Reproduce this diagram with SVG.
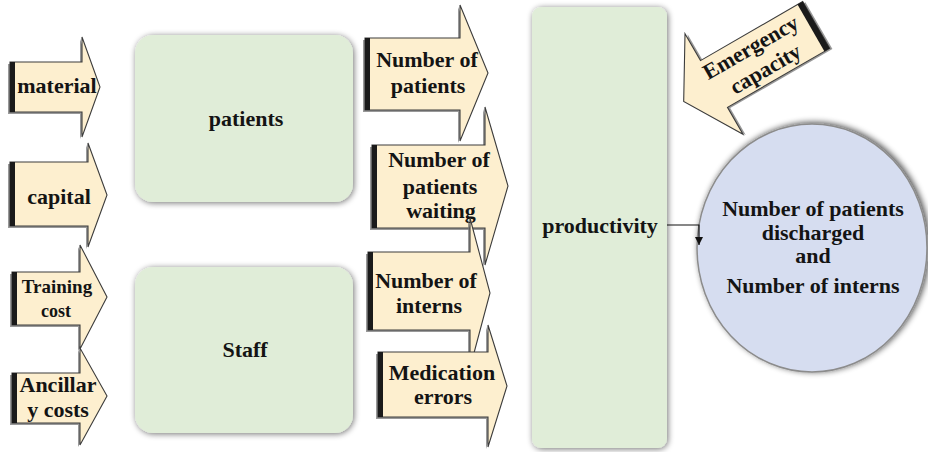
<svg xmlns="http://www.w3.org/2000/svg" width="928" height="452" viewBox="0 0 928 452">
<style>
text{font-weight:bold;font-size:22px;fill:#141414;text-anchor:middle}
.arr{fill:#fdefcf;stroke:#3c3c3c;stroke-width:1.1;stroke-linejoin:miter}
.arrsh{fill:#777;opacity:.75}
.bar{fill:#1a1a1a}
.box{fill:#e0edd8}
.conn{fill:none;stroke:#111;stroke-width:1.2}
</style>
<defs>
<filter id="soft" x="-10%" y="-10%" width="120%" height="120%">
<feGaussianBlur in="SourceAlpha" stdDeviation="3"/>
<feOffset dx="1" dy="1" result="b"/>
<feComponentTransfer><feFuncA type="linear" slope="0.55"/></feComponentTransfer>
<feMerge><feMergeNode/><feMergeNode in="SourceGraphic"/></feMerge>
</filter>
<filter id="circsh" x="-15%" y="-15%" width="130%" height="130%">
<feGaussianBlur in="SourceAlpha" stdDeviation="3"/>
<feOffset dx="2" dy="-1"/>
<feComponentTransfer><feFuncA type="linear" slope="0.7"/></feComponentTransfer>
<feMerge><feMergeNode/><feMergeNode in="SourceGraphic"/></feMerge>
</filter>
<marker id="ah" markerWidth="8" markerHeight="8" refX="8" refY="4" orient="auto" markerUnits="userSpaceOnUse" viewBox="0 0 8 8">
<path d="M0,0 L8,4 L0,8 Z" fill="#111"/>
</marker>
</defs>
<rect width="928" height="452" fill="#ffffff"/>
<g font-family="Liberation Serif, Times New Roman, DejaVu Serif, serif">

<!-- left input arrows -->
<g id="material">
<polygon class="arrsh" points="8,64 80,64 80,39 98,89 80,139 80,114 8,114"/>
<polygon class="arr" points="10,62 82,62 82,37 100,87 82,137 82,112 10,112"/>
<rect class="bar" x="10" y="62" width="5" height="50"/>
<text x="57" y="93">material</text>
</g>
<g id="capital">
<polygon class="arrsh" points="8,164 86,164 86,145 105,197 86,249 86,228 8,228"/>
<polygon class="arr" points="10,162 88,162 88,143 107,195 88,247 88,226 10,226"/>
<rect class="bar" x="10" y="162" width="5" height="64"/>
<text x="59" y="204">capital</text>
</g>
<g id="training">
<polygon class="arrsh" points="10,274 78,274 78,247 105,299 78,351 78,327 10,327"/>
<polygon class="arr" points="12,272 80,272 80,245 107,297 80,349 80,325 12,325"/>
<rect class="bar" x="12" y="272" width="5" height="53"/>
<text x="57" y="293" style="font-size:19px">Training</text>
<text x="56" y="317" style="font-size:18px">cost</text>
</g>
<g id="ancillary">
<polygon class="arrsh" points="10,375 78,375 78,350 105,398 78,447 78,425 10,425"/>
<polygon class="arr" points="12,373 80,373 80,348 107,396 80,445 80,423 12,423"/>
<rect class="bar" x="12" y="373" width="5" height="50"/>
<text x="58" y="392">Ancillar</text>
<text x="58" y="417">y costs</text>
</g>

<!-- green boxes -->
<g id="patients">
<rect class="box" x="135" y="35" width="218" height="167" rx="18" filter="url(#soft)"/>
<text x="246" y="126">patients</text>
</g>
<g id="staff">
<rect class="box" x="135" y="267" width="218" height="166" rx="18" filter="url(#soft)"/>
<text x="245" y="357">Staff</text>
</g>

<!-- middle arrows -->
<g id="num-patients">
<polygon class="arrsh" points="363,40 458,40 458,7 486,75 458,143 458,112 363,112"/>
<polygon class="arr" points="365,38 460,38 460,5 488,73 460,141 460,110 365,110"/>
<rect class="bar" x="365" y="38" width="5" height="72"/>
<text x="427" y="67">Number of</text>
<text x="428" y="93">patients</text>
</g>
<g id="num-waiting">
<polygon class="arrsh" points="370,147 483,147 483,109 506,188 483,267 483,230 370,230"/>
<polygon class="arr" points="372,145 485,145 485,107 508,186 485,265 485,228 372,228"/>
<rect class="bar" x="372" y="145" width="5" height="83"/>
<text x="439" y="167">Number of</text>
<text x="440" y="194">patients</text>
<text x="441" y="218">waiting</text>
</g>
<g id="num-interns">
<polygon class="arrsh" points="366,254 468,254 468,220 488,295 468,370 468,332 366,332"/>
<polygon class="arr" points="368,252 470,252 470,218 490,293 470,368 470,330 368,330"/>
<rect class="bar" x="368" y="252" width="5" height="78"/>
<text x="426" y="288">Number of</text>
<text x="429" y="313">interns</text>
</g>
<g id="medication">
<polygon class="arrsh" points="376,354 486,354 486,327 505,388 486,449 486,419 376,419"/>
<polygon class="arr" points="378,352 488,352 488,325 507,386 488,447 488,417 378,417"/>
<rect class="bar" x="378" y="352" width="5" height="65"/>
<text x="442" y="380">Medication</text>
<text x="443" y="404">errors</text>
</g>

<!-- productivity -->
<g id="productivity">
<rect class="box" x="532" y="7" width="135" height="441" rx="9" filter="url(#soft)"/>
<text x="600" y="233">productivity</text>
</g>

<!-- emergency capacity -->
<g id="emergency" transform="translate(714,84) rotate(-30)">
<polygon class="arrsh" points="-33,2 2,-56 2,-25 120,-25 120,29 2,29 2,60"/>
<polygon class="arr" points="-35,0 0,-58 0,-27 118,-27 118,27 0,27 0,58"/>
<rect class="bar" x="112" y="-27" width="6" height="54"/>
<text x="50" y="-6">Emergency</text>
<text x="52" y="20">capacity</text>
</g>

<!-- outcome ellipse -->
<g id="outcome">
<ellipse cx="812" cy="248" rx="115" ry="124" fill="#d6ddf0" stroke="#8c8c8c" stroke-width="1.5" filter="url(#circsh)"/>
<text x="813" y="216">Number of patients</text>
<text x="813" y="240">discharged</text>
<text x="813" y="263">and</text>
<text x="813" y="293">Number of interns</text>
</g>

<!-- connectors -->
<g id="connectors">
<path class="conn" d="M667,225 H699 V245" marker-end="url(#ah)"/>
</g>
</g>
</svg>
